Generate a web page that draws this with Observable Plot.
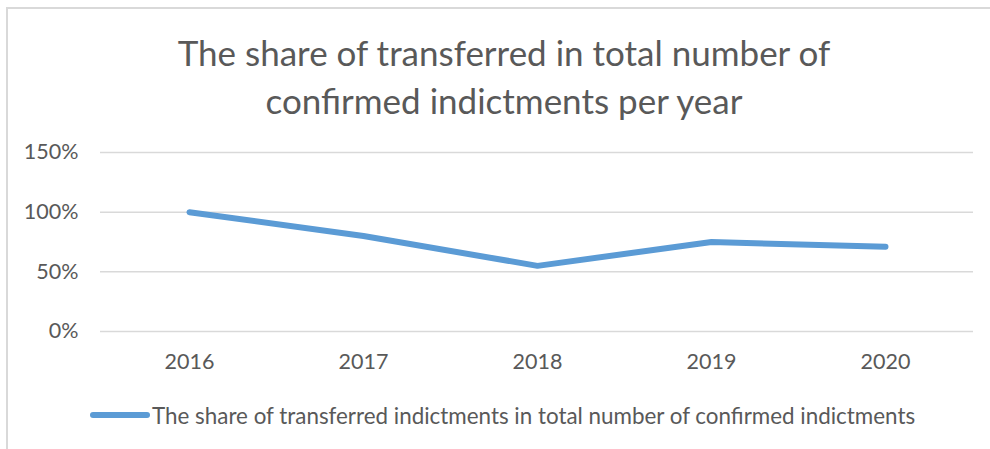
<!DOCTYPE html>
<html><head><meta charset="utf-8">
<script src="https://cdn.jsdelivr.net/npm/d3@7"></script>
<script src="https://cdn.jsdelivr.net/npm/@observablehq/plot@0.6"></script>
<style>
body{margin:0;background:#fff;}
#wrap{position:relative;width:990px;height:449px;overflow:hidden;font-family:Lato,"Open Sans",sans-serif;color:#595959;background:#fff;}
#frame{position:absolute;left:6px;top:7px;width:1100px;height:600px;border-top:2px solid #d9d9d9;border-left:2px solid #d9d9d9;}
#title{position:absolute;left:0;width:1008px;top:28px;text-align:center;font-size:35px;line-height:48px;font-weight:400;white-space:nowrap;}
#chart{position:absolute;left:0;top:130px;}
#legend{position:absolute;left:90px;top:403px;height:24px;display:flex;align-items:center;font-size:22.4px;white-space:nowrap;}
#legend svg{margin-right:2px;}
</style></head>
<body>
<div id="wrap">
  <div id="frame"></div>
  <div id="title">The share of transferred in total number of<br>confirmed indictments per year</div>
  <div id="chart"></div>
  <div id="legend"><svg width="60" height="10"><line x1="3" y1="5" x2="57" y2="5" stroke="#5B9BD5" stroke-width="6" stroke-linecap="round"/></svg><span id="legtext"></span></div>
</div>
<script>
const years = ["2016", "2017", "2018", "2019", "2020"];
const shares = [1.00, 0.80, 0.55, 0.75, 0.71];
const yTicks = [0, 0.5, 1.0, 1.5];
const seriesName = "The share of transferred indictments in total number of confirmed indictments";

const data = years.map((y, i) => ({year: y, share: shares[i]}));
document.getElementById("legtext").textContent = seriesName;

const chart = Plot.plot({
  width: 990,
  height: 250,
  marginLeft: 100,
  marginRight: 17,
  marginTop: 22,
  marginBottom: 49,
  style: {fontFamily: "Lato, 'Open Sans', sans-serif", fontSize: "21.5px", color: "#595959", background: "transparent"},
  x: {type: "point", domain: years, padding: 0.5},
  y: {domain: [0, 1.5]},
  marks: [
    Plot.ruleY(yTicks, {stroke: "#d9d9d9", strokeWidth: 1.5, strokeOpacity: 1}),
    Plot.axisY({ticks: yTicks, tickSize: 0, tickPadding: 22, tickFormat: d => Math.round(d * 100) + "%", label: null, fill: "#595959"}),
    Plot.axisX({tickSize: 0, tickPadding: 22, label: null, fill: "#595959"}),
    Plot.line(data, {x: "year", y: "share", stroke: "#5B9BD5", strokeWidth: 6, strokeLinecap: "round", strokeLinejoin: "round"})
  ]
});
document.getElementById("chart").appendChild(chart);
</script>
</body></html>
